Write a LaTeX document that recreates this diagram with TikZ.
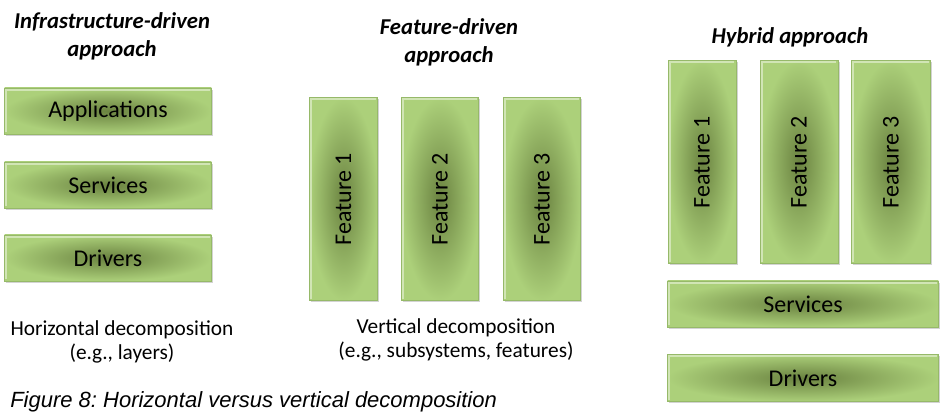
\documentclass[tikz,border=0pt]{standalone}
\usepackage{fontspec}
\setmainfont{Carlito}
\newfontfamily\capfont{Liberation Sans}
\usetikzlibrary{shadows}
\frenchspacing

\definecolor{boxlight}{RGB}{172,208,122}
\definecolor{boxdark}{RGB}{106,130,64}
\definecolor{boxedge}{RGB}{150,185,105}

\begin{document}
\begin{tikzpicture}[x=0.75pt, y=-0.75pt,
  block/.style={draw=boxedge, line width=0.6pt, inner color=boxdark, outer color=boxlight,
    drop shadow={opacity=0.35, shadow xshift=1.2pt, shadow yshift=-1.2pt},
    path picture={\draw[white, opacity=0.45, line width=1.4pt]
      ([shift={(1.3pt,1.3pt)}]path picture bounding box.south west) |-
      ([shift={(-1.3pt,-1.3pt)}]path picture bounding box.north east);},
    inner sep=0pt, font=\fontsize{18}{20}\selectfont},
  layer/.style={block, minimum width=#1, minimum height=34.5pt},
  feat/.style={block, minimum width=#1, minimum height=152pt},
  heading/.style={align=center, font=\fontsize{17}{21}\selectfont\bfseries\itshape},
  note/.style={align=center, font=\fontsize{16}{18}\selectfont}]

  \path[use as bounding box] (0,0) rectangle (942,413);

  % infrastructure-driven
  \node[heading] (infra) at (112,36) {Infrastructure-driven\\approach};
  \node[layer=155pt] (apps) at (108,111) {Applications};
  \node[layer=155pt] (srvA) at (108,185) {Services};
  \node[layer=155pt] (drvA) at (108,258) {Drivers};
  \node[note] (horiz) at (122,342) {Horizontal decomposition\\(e.g., layers)};

  % feature-driven
  \node[heading] (featdrv) at (449,42) {Feature-driven\\approach};
  \node[feat=51.5pt] (fa1) at (343.5,199) {\rotatebox{90}{Feature 1}};
  \node[feat=58pt] (fa2) at (440,199) {\rotatebox{90}{Feature 2}};
  \node[feat=58pt] (fa3) at (542,199) {\rotatebox{90}{Feature 3}};
  \node[note] (vert) at (456,340) {Vertical decomposition\\(e.g., subsystems, features)};

  % hybrid
  \node[heading] (hybrid) at (790,37) {Hybrid approach};
  \node[feat=51pt] (fb1) at (702,162) {\rotatebox{90}{Feature 1}};
  \node[feat=58.5pt] (fb2) at (799,162) {\rotatebox{90}{Feature 2}};
  \node[feat=59pt] (fb3) at (891,162) {\rotatebox{90}{Feature 3}};
  \node[layer=203pt] (srvB) at (803,304) {Services};
  \node[layer=203pt, minimum height=35.5pt] (drvB) at (803,378) {Drivers};

  % caption at the lower edge
  \node[anchor=base west, inner sep=0pt, font=\capfont\itshape\fontsize{16.5}{18}\selectfont] (cap) at (10,407)
    {Figure 8: Horizontal versus vertical decomposition};
\end{tikzpicture}
\end{document}
